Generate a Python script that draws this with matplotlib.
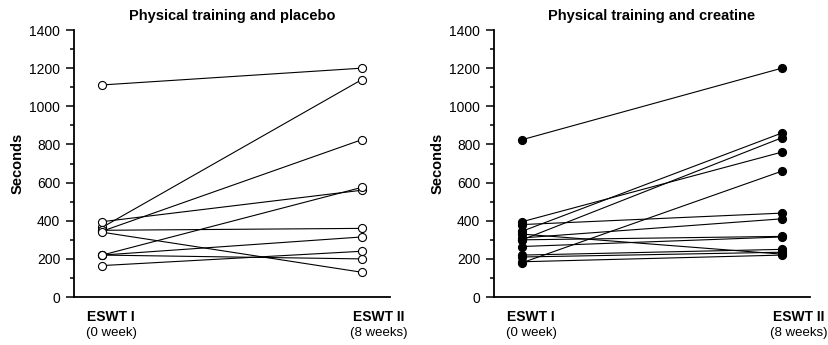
import matplotlib.pyplot as plt
import matplotlib.transforms as mtransforms
from matplotlib.ticker import MultipleLocator

plt.rcParams['font.family'] = ['Liberation Sans', 'DejaVu Sans']

# Dati (secondi, ESWT I -> ESWT II)
placebo_pre = [1112, 365, 345, 395, 220, 350, 340, 220, 220, 165]
placebo_post = [1200, 1140, 825, 560, 575, 360, 130, 315, 200, 240]

creatina_pre = [825, 395, 345, 300, 180, 380, 310, 330, 300, 265, 220, 210, 185]
creatina_post = [1200, 760, 860, 835, 660, 440, 410, 225, 318, 315, 250, 235, 220]

titoli = ["Physical training and placebo", "Physical training and creatine"]
etichette = [("ESWT I", "(0 week)"), ("ESWT II", "(8 weeks)")]

fig = plt.figure(figsize=(8.29, 3.45), dpi=100)
ax1 = fig.add_axes([0.0893, 0.139, 0.381, 0.774])
ax2 = fig.add_axes([0.596, 0.139, 0.381, 0.774])

gruppi = [(ax1, placebo_pre, placebo_post, "white"),
          (ax2, creatina_pre, creatina_post, "black")]

for i, (ax, pre, post, fc) in enumerate(gruppi):
    for a, b in zip(pre, post):
        ax.plot([0, 1], [a, b], color="black", linewidth=0.8,
                marker="o", markersize=5.8, markerfacecolor=fc,
                markeredgecolor="black", markeredgewidth=0.8,
                clip_on=False, zorder=3)
    ax.set_xlim(-0.108, 1.108)
    ax.set_ylim(0, 1400)
    ax.yaxis.set_major_locator(MultipleLocator(200))
    ax.yaxis.set_minor_locator(MultipleLocator(100))
    ax.tick_params(axis="y", which="major", length=6, width=1.1,
                   labelsize=10, pad=4)
    ax.tick_params(axis="y", which="minor", length=3, width=1.1)
    ax.set_xticks([])
    ax.spines["top"].set_visible(False)
    ax.spines["right"].set_visible(False)
    ax.spines["left"].set_linewidth(1.3)
    ax.spines["bottom"].set_linewidth(1.3)
    ax.set_ylabel("Seconds", fontsize=10.5, fontweight="bold", labelpad=3)
    ax.set_title(titoli[i], fontsize=10.5, fontweight="bold", pad=7)

    trans = mtransforms.blended_transform_factory(ax.transData, ax.transAxes)
    for x, (riga1, riga2) in zip([0.035, 1.065], etichette):
        ax.text(x, -0.075, riga1, transform=trans, ha="center", va="center",
                fontsize=10, fontweight="bold")
        ax.text(x, -0.135, riga2, transform=trans, ha="center", va="center",
                fontsize=9.5)

fig.savefig("out.png", dpi=100)
